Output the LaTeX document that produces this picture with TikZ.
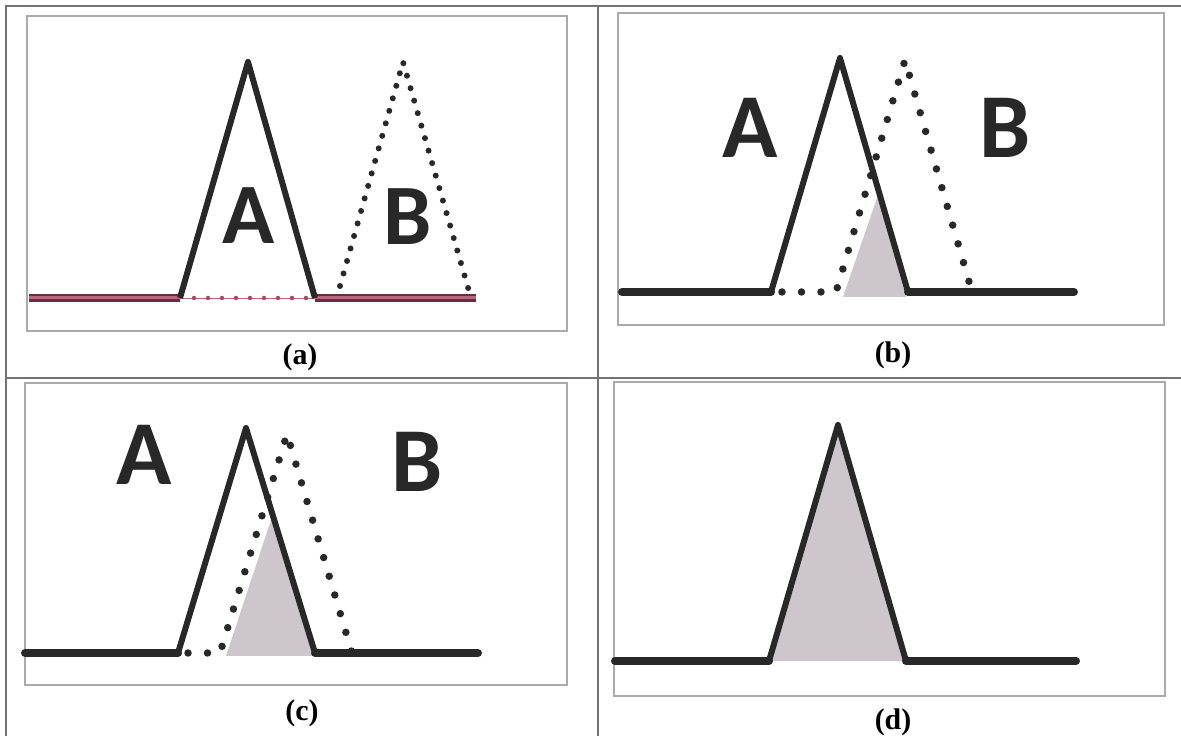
\documentclass[tikz,border=0pt]{standalone}
\usepackage{fontspec}
\setmainfont{Liberation Serif}
\newfontfamily\peakfont{Carlito}
\usetikzlibrary{positioning}
\definecolor{lineblack}{RGB}{40,40,40}
\definecolor{overlapgray}{RGB}{205,199,205}
\definecolor{framegray}{RGB}{115,115,115}
\definecolor{boxgray}{RGB}{170,170,170}
\definecolor{basepink}{RGB}{185,105,125}
\definecolor{baserim}{RGB}{105,45,65}

\begin{document}
\begin{tikzpicture}[x=0.02cm, y=-0.02cm,
    frame/.style={draw=framegray, line width=0.8pt},
    panelbox/.style={draw=boxgray, line width=0.8pt},
    curve/.style={draw=lineblack, line width=0.12cm, line join=round},
    baseln/.style={draw=lineblack, line width=0.16cm, line cap=round},
    pinkbase/.style={draw=baserim, double=basepink, line width=0.05cm, double distance=0.06cm},
    pinkdots/.style={draw=basepink!80!black, line width=0.09cm, line cap=round, dash pattern=on 0pt off 0.28cm},
    finedots/.style={draw=lineblack, line width=0.12cm, line cap=round, dash pattern=on 0pt off 0.26cm},
    bigdots/.style={draw=lineblack, line width=0.15cm, line cap=round, dash pattern=on 0pt off 0.39cm},
    overlap/.style={fill=overlapgray},
    peak/.style={font={\peakfont\bfseries\fontsize{49}{49}\selectfont}, text=lineblack, inner sep=0pt},
    bigpeak/.style={peak, font={\peakfont\bfseries\fontsize{52}{52}\selectfont}},
    caption/.style={font={\bfseries\fontsize{17}{17}\selectfont}, inner sep=0pt}
  ]
    \useasboundingbox (0,0) rectangle (1181,736);

    % table rules
    \draw[frame] (6,736) -- (6,6) -- (1181,6);
    \draw[frame] (6,378) -- (1181,378);
    \draw[frame] (598,6) -- (598,736);

    % --- (a) apart ---
    \draw[panelbox] (27,16) rectangle (567,331);
    \draw[pinkbase] (29,298) -- (180,298);
    \draw[pinkbase] (315,298) -- (476,298);
    \draw[basepink, line width=0.5pt] (180,298) -- (315,298);
    \draw[pinkdots] (194,298) -- (308,298);
    \draw[curve] (180,298) -- (248,62) -- (315,298);
    \draw[finedots] (340,286) -- (403,62) -- (469,291);
    \node[peak] (pkAa) at (249,216) {A};
    \node[peak] (pkBa) at (408,217) {B};
    \node[caption] (capa) at (300,357) {(a)};

    % --- (b) small overlap ---
    \draw[panelbox] (618,13) rectangle (1164,325);
    \fill[overlap] (843,297) -- (878,195) -- (906,297) -- cycle;
    \draw[baseln] (622,292) -- (771,292);
    \draw[baseln] (908,292) -- (1074,292);
    \draw[curve] (771,292) -- (840,58) -- (908,292);
    \draw[bigdots] (782,292) -- (836,292) -- (905,60) -- (972,292);
    \node[bigpeak] (pkAb) at (750,128) {A};
    \node[bigpeak] (pkBb) at (1005,128) {B};
    \node[caption] (capb) at (893,355) {(b)};

    % --- (c) large overlap ---
    \draw[panelbox] (25,383) rectangle (567,685);
    \fill[overlap] (226,656) -- (271,520) -- (313,656) -- cycle;
    \draw[baseln] (25,653) -- (178,653);
    \draw[baseln] (315,653) -- (478,653);
    \draw[curve] (178,653) -- (246,428) -- (315,653);
    \draw[bigdots] (188,653) -- (220,653) -- (287,434) -- (352,653);
    \node[bigpeak] (pkAc) at (144,455) {A};
    \node[bigpeak] (pkBc) at (417,462) {B};
    \node[caption] (capc) at (302,713) {(c)};

    % --- (d) full overlap ---
    \draw[panelbox] (614,382) rectangle (1165,696);
    \fill[overlap] (769,661) -- (838,425) -- (906,661) -- cycle;
    \draw[baseln] (615,661) -- (769,661);
    \draw[baseln] (906,661) -- (1076,661);
    \draw[curve] (769,661) -- (838,425) -- (906,661);
    \node[caption] (capd) at (893,722) {(d)};
  \end{tikzpicture}
\end{document}
